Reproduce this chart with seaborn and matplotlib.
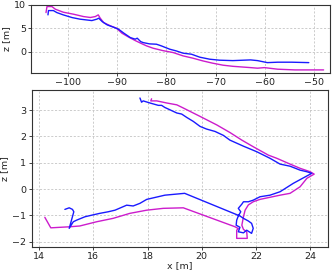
import matplotlib
matplotlib.use("Agg")
import matplotlib.pyplot as plt
import seaborn as sns
import pandas as pd

# ---- top panel: global trajectory (x vs z) ----
top_blue_x = [-104.0, -103.9, -102.9, -102.2, -100.9, -99.1, -97.5, -95.1, -94.1, -93.7, -93.0, -92.0,
              -90.7, -89.7, -88.6, -87.3, -86.3, -85.9, -85.2, -84.7, -83.4, -82.0, -81.0, -79.3,
              -78.0, -76.6, -74.9, -73.2, -71.2, -69.2, -66.5, -62.9, -61.5, -59.5, -57.4, -54.6, -51.1]
top_blue_z = [7.86, 8.78, 8.78, 8.35, 7.86, 7.28, 6.94, 6.64, 6.94, 7.15, 6.42, 5.72,
              5.22, 4.8, 3.94, 3.0, 2.66, 2.87, 2.14, 1.93, 1.65, 1.58, 1.22, 0.51,
              0.15, -0.34, -0.56, -1.2, -1.63, -1.84, -1.93, -1.78, -1.93, -2.36, -2.27, -2.27, -2.36]

top_mag_x = [-104.4, -104.2, -103.2, -102.5, -100.9, -98.8, -96.8, -95.4, -94.4, -93.8, -93.4, -92.7,
             -91.3, -90.1, -89.0, -87.6, -86.3, -85.2, -84.0, -82.7, -80.7, -78.6, -76.6, -74.6,
             -72.6, -70.6, -68.5, -66.5, -62.9, -61.5, -60.1, -57.4, -53.9, -50.3, -48.1]
top_mag_z = [8.35, 9.64, 9.64, 9.07, 8.43, 8.0, 7.5, 7.3, 7.5, 7.86, 7.15, 6.2,
             5.5, 5.0, 3.94, 3.08, 2.36, 1.8, 1.22, 0.73, 0.21, -0.21, -0.92, -1.41,
             -1.99, -2.48, -2.91, -3.15, -3.43, -3.55, -3.43, -3.77, -3.92, -3.92, -3.92]

# ---- bottom panel: local trajectory (x vs z) ----
bot_blue_x = [17.72, 17.78, 17.84, 18.09, 18.40, 18.52, 18.64, 18.83, 19.08, 19.26, 19.45, 19.69,
              19.94, 20.18, 20.49, 20.80, 21.04, 21.54, 22.03, 22.52, 22.89, 23.26, 23.63, 23.88,
              24.06, 23.38, 22.89, 22.52, 22.15, 21.90, 21.72, 21.54, 21.48, 21.35, 21.44, 21.35,
              21.29, 21.27, 21.41, 21.35, 21.54, 21.66, 21.84, 21.90, 21.84, 21.72, 21.54, 21.41,
              19.37, 18.64, 17.97, 17.72, 17.47, 17.23, 16.80, 16.55, 16.24, 15.94, 15.69, 15.38,
              15.26, 15.11, 15.28, 15.23, 15.11, 14.95]
bot_blue_z = [3.46, 3.30, 3.35, 3.27, 3.18, 3.18, 3.10, 3.01, 2.89, 2.85, 2.72, 2.57,
              2.38, 2.28, 2.19, 2.04, 1.86, 1.63, 1.42, 1.17, 0.95, 0.87, 0.72, 0.66,
              0.60, 0.22, -0.10, -0.23, -0.29, -0.42, -0.48, -0.48, -0.57, -0.73, -0.86, -1.02,
              -1.18, -1.37, -1.45, -1.62, -1.66, -1.56, -1.68, -1.49, -1.30, -1.21, -1.11, -1.02,
              -0.16, -0.23, -0.39, -0.54, -0.64, -0.61, -0.80, -0.86, -0.92, -0.99, -1.05, -1.18,
              -1.24, -1.49, -0.86, -0.77, -0.71, -0.77]

bot_mag_x = [18.15, 18.12, 18.34, 18.71, 19.08, 19.32, 19.94, 20.55, 21.04, 21.48, 21.90, 22.46,
             22.77, 23.26, 23.63, 24.00, 24.15, 23.88, 23.63, 23.26, 22.89, 22.52, 22.15, 21.90,
             21.72, 21.60, 21.54, 21.48, 21.54, 21.66, 21.68, 21.48, 21.29, 21.29, 21.35, 21.23,
             19.32, 18.58, 17.97, 17.35, 16.73, 16.12, 15.50, 15.13, 14.43, 14.21]
bot_mag_z = [3.43, 3.35, 3.35, 3.27, 3.20, 3.08, 2.76, 2.44, 2.15, 1.86, 1.61, 1.29,
             1.17, 0.95, 0.79, 0.66, 0.57, 0.41, 0.09, -0.16, -0.23, -0.31, -0.39, -0.48,
             -0.60, -0.80, -1.05, -1.37, -1.53, -1.62, -1.87, -1.87, -1.87, -1.56, -1.50, -1.43,
             -0.71, -0.73, -0.80, -0.92, -1.11, -1.24, -1.40, -1.43, -1.47, -1.07]

top_xticks = [-100, -90, -80, -70, -60, -50]
top_yticks = [0, 5, 10]
bot_xticks = [14, 16, 18, 20, 22, 24]
bot_yticks = [-2, -1, 0, 1, 2, 3]

sns.set_style("ticks")
plt.rcParams["font.family"] = ["DejaVu Sans"]

BLUE = "#1a1aff"
MAG = "#cc1ccc"
FS = 6.8

fig = plt.figure(figsize=(3.32, 2.73), dpi=100)
ax1 = fig.add_axes([0.094, 0.734, 0.900, 0.249])
ax2 = fig.add_axes([0.095, 0.096, 0.893, 0.574])

def draw(ax, bx, bz, mx, mz):
    dfb = pd.DataFrame({"x": bx, "z": bz})
    dfm = pd.DataFrame({"x": mx, "z": mz})
    sns.lineplot(data=dfm, x="x", y="z", sort=False, estimator=None, color=MAG, lw=1.0, ax=ax)
    sns.lineplot(data=dfb, x="x", y="z", sort=False, estimator=None, color=BLUE, lw=1.0, ax=ax)

draw(ax1, top_blue_x, top_blue_z, top_mag_x, top_mag_z)
draw(ax2, bot_blue_x, bot_blue_z, bot_mag_x, bot_mag_z)

ax1.set_xlim(-107.4, -46.8)
ax1.set_ylim(-4.5, 10.05)
ax1.set_xticks(top_xticks)
ax1.set_yticks(top_yticks)
ax1.set_xlabel("")
ax1.set_ylabel("z [m]", fontsize=FS, labelpad=2)

ax2.set_xlim(13.72, 24.66)
ax2.set_ylim(-2.19, 3.76)
ax2.set_xticks(bot_xticks)
ax2.set_yticks(bot_yticks)
ax2.set_xlabel("x [m]", fontsize=FS, labelpad=0)
ax2.set_ylabel("z [m]", fontsize=FS, labelpad=2)

for ax in (ax1, ax2):
    ax.grid(True, linestyle=(0, (2.5, 2)), color="#c4c4c4", lw=0.6)
    ax.tick_params(labelsize=FS, length=2.5, width=0.6, pad=1.2, colors="#222222")
    for s in ax.spines.values():
        s.set_color("#333333")
        s.set_linewidth(0.8)
    ax.set_facecolor("white")

fig.savefig("out.png", dpi=100)
